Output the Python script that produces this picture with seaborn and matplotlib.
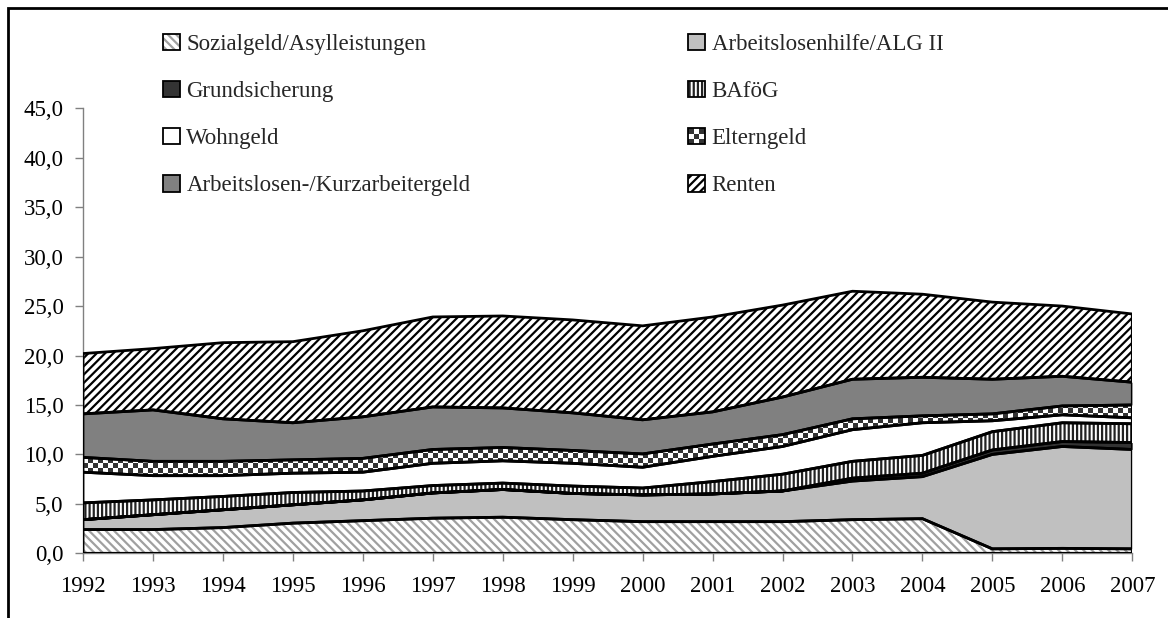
import numpy as np
import seaborn as sns
import matplotlib.pyplot as plt
from matplotlib.patches import Patch, Rectangle
from matplotlib.colors import ListedColormap
from matplotlib.legend_handler import HandlerBase, HandlerTuple
from matplotlib.ticker import FuncFormatter

years = list(range(1992, 2008))

# values per layer (stacked from bottom to top)
sozialgeld = [2.4, 2.4, 2.6, 3.05, 3.3, 3.55, 3.65, 3.4, 3.2, 3.2, 3.2, 3.4, 3.5, 0.45, 0.5, 0.45]
alg2 = [1.0, 1.5, 1.8, 1.85, 2.1, 2.55, 2.8, 2.65, 2.7, 2.8, 3.1, 3.9, 4.25, 9.55, 10.3, 10.05]
grundsicherung = [0, 0, 0, 0, 0, 0, 0, 0, 0, 0, 0, 0.3, 0.35, 0.45, 0.5, 0.7]
bafoeg = [1.7, 1.5, 1.35, 1.25, 0.9, 0.75, 0.65, 0.75, 0.7, 1.25, 1.7, 1.7, 1.8, 1.85, 1.9, 1.9]
wohngeld = [3.1, 2.45, 2.1, 1.95, 1.9, 2.25, 2.25, 2.3, 2.1, 2.55, 2.8, 3.2, 3.3, 1.1, 0.8, 0.6]
elterngeld = [1.5, 1.45, 1.45, 1.35, 1.4, 1.4, 1.35, 1.3, 1.35, 1.25, 1.2, 1.1, 0.7, 0.7, 0.9, 1.3]
alg = [4.4, 5.2, 4.3, 3.75, 4.2, 4.3, 4.0, 3.8, 3.45, 3.25, 3.8, 4.0, 3.9, 3.5, 3.0, 2.3]
renten = [6.1, 6.2, 7.7, 8.2, 8.7, 9.1, 9.3, 9.4, 9.5, 9.6, 9.3, 8.9, 8.4, 7.8, 7.1, 6.9]

yticks = [0, 5, 10, 15, 20, 25, 30, 35, 40, 45]

sns.set_theme(style="white")
plt.rcParams["font.family"] = ["Liberation Serif", "DejaVu Serif"]
plt.rcParams["hatch.linewidth"] = 1.6

# name, values, facecolor, hatch, hatch colour
layers = [
    ("Sozialgeld/Asylleistungen", sozialgeld, "white", "\\\\\\\\", "#a0a0a0"),
    ("Arbeitslosenhilfe/ALG II", alg2, "#c0c0c0", None, "#c0c0c0"),
    ("Grundsicherung", grundsicherung, "#333333", None, "#333333"),
    ("BAföG", bafoeg, "white", "||||", "#222222"),
    ("Wohngeld", wohngeld, "white", None, "white"),
    ("Elterngeld", elterngeld, "white", "checker", "#333333"),
    ("Arbeitslosen-/Kurzarbeitergeld", alg, "#808080", None, "#808080"),
    ("Renten", renten, "white", "////", "black"),
]


class CheckerPatch(Patch):
    pass


class CheckerHandler(HandlerBase):
    def create_artists(self, legend, orig_handle, xdescent, ydescent,
                       width, height, fontsize, trans):
        arts = []
        n = 3
        for i in range(n):
            for j in range(n):
                c = "#333333" if (i + j) % 2 == 0 else "white"
                arts.append(Rectangle((-xdescent + i * width / n, -ydescent + j * height / n),
                                      width / n, height / n, facecolor=c,
                                      edgecolor="none", transform=trans))
        arts.append(Rectangle((-xdescent, -ydescent), width, height, facecolor="none",
                              edgecolor="black", lw=1.3, transform=trans))
        return arts


fig = plt.figure(figsize=(11.68, 6.18), dpi=100)
ax = fig.add_axes([83 / 1168, 1 - 553.3 / 618, (1132.3 - 83) / 1168, (553.3 - 108.3) / 618])

# checker pattern for Elterngeld, about 5 px cells
checker = np.indices((89, 210)).sum(axis=0) % 2

handles = {}
bottom = np.zeros(len(years))
for name, vals, face, hatch, hc in layers:
    top = bottom + np.array(vals)
    if hatch == "checker":
        poly = ax.fill_between(years, bottom, top, facecolor="none", lw=0)
        img = ax.imshow(checker, extent=[1992, 2007, 0, 45], aspect="auto",
                        cmap=ListedColormap(["white", "#333333"]),
                        interpolation="nearest", zorder=1.5)
        img.set_clip_path(poly.get_paths()[0], ax.transData)
        handles[name] = CheckerPatch(facecolor="white")
    else:
        ax.fill_between(years, bottom, top, facecolor=face, hatch=hatch,
                        edgecolor=hc, lw=0, zorder=1)
        handles[name] = (Patch(facecolor=face, hatch=hatch, edgecolor=hc, lw=0),
                         Patch(facecolor="none", edgecolor="black", lw=1.3))
    ax.fill_between(years, bottom, top, facecolor="none", edgecolor="black",
                    lw=2.0, zorder=3)
    bottom = top

ax.set_xlim(1992, 2007)
ax.set_ylim(0, 45)
ax.set_xticks(years)
ax.set_yticks(yticks)
ax.yaxis.set_major_formatter(FuncFormatter(lambda v, p: f"{v:.1f}".replace(".", ",")))
for s in ["top", "right"]:
    ax.spines[s].set_visible(False)
for s in ["left", "bottom"]:
    ax.spines[s].set_color("#808080")
    ax.spines[s].set_linewidth(1)
ax.tick_params(bottom=True, left=True, direction="out", length=6, width=1,
               color="#808080", labelsize=16.5, labelcolor="black")
ax.tick_params(axis="x", pad=10)
ax.tick_params(axis="y", pad=8)

order = ["Sozialgeld/Asylleistungen", "Grundsicherung", "Wohngeld",
         "Arbeitslosen-/Kurzarbeitergeld", "Arbeitslosenhilfe/ALG II", "BAföG",
         "Elterngeld", "Renten"]
fig.legend([handles[k] for k in order], order, ncol=2, loc="upper left",
           bbox_to_anchor=(163 / 1168, 1 - 34 / 618), frameon=False, fontsize=16.5,
           handlelength=0.72, handleheight=0.72, handletextpad=0.3,
           labelspacing=1.13, columnspacing=9.5, borderpad=0, borderaxespad=0,
           handler_map={tuple: HandlerTuple(ndivide=1, pad=0),
                        CheckerPatch: CheckerHandler()})

# outer frame, cut off at the right and bottom
fig.patches.append(Rectangle((8 / 1168, -0.2), 1.5, 1.2 - 8 / 618, transform=fig.transFigure,
                             fill=False, edgecolor="black", lw=2))

fig.savefig("out.png", dpi=100)
